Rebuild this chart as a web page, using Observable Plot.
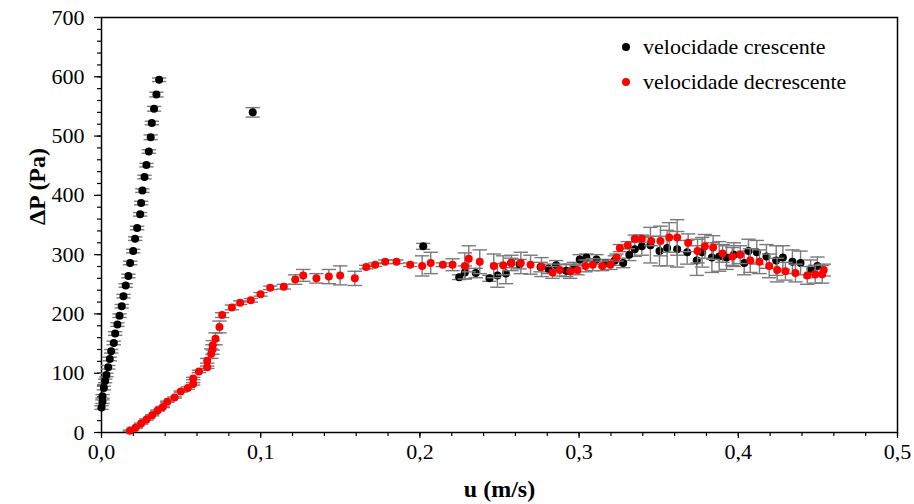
<!DOCTYPE html>
<html>
<head>
<meta charset="utf-8">
<script src="https://cdn.jsdelivr.net/npm/d3@7"></script>
<script src="https://cdn.jsdelivr.net/npm/@observablehq/plot@0.6"></script>
<style>
  html, body { margin: 0; padding: 0; background: #fff; }
  #wrap { position: relative; width: 914px; height: 504px; font-family: "Liberation Serif", "Times New Roman", serif; }
  #wrap svg, #wrap svg text { font-family: "Liberation Serif", "Times New Roman", serif !important; }
  #legend { position: absolute; left: 622px; top: 29px; font-size: 22px; color: #000; line-height: 35px; font-family: "Liberation Serif", "Times New Roman", serif; }
  #legend .item { display: flex; align-items: center; white-space: nowrap; }
  #legend .sw { width: 8px; height: 8px; border-radius: 50%; display: inline-block; margin-right: 13px; }
</style>
</head>
<body>
<div id="wrap"><div id="legend"></div></div>
<script>
// Series names and colours
const seriesNames = ["velocidade crescente", "velocidade decrescente"];
const seriesColors = ["#000000", "#ff0000"];

// velocidade crescente: u (m/s)
const uCresc = [0.0000,0.0006,0.0006,0.0015,0.0023,0.0031,0.0042,0.0052,0.0061,0.0077,0.0086,0.0100,0.0113,0.0127,0.0138,0.0152,0.0169,0.0180,0.0199,0.0211,0.0224,0.0243,0.0249,0.0257,0.0270,0.0282,0.0297,0.0309,0.0316,0.0330,0.0345,0.0362,
  0.0950,
  0.2021,0.2247,0.2282,0.2351,0.2437,0.2487,0.2540,0.2573,0.2626,0.2758,0.2808,0.2856,0.2919,0.2967,0.3004,0.3046,0.3109,0.3166,0.3224,0.3277,0.3315,0.3350,0.3394,0.3448,0.3505,0.3553,0.3616,0.3679,0.3739,0.3773,0.3834,0.3880,0.3926,0.3972,0.4037,0.4064,0.4116,0.4177,0.4238,0.4280,0.4340,0.4391,0.4454,0.4497];
// velocidade crescente: ΔP (Pa)
const pCresc = [42,52,61,75,87,97,110,124,137,151,167,182,197,213,230,248,264,286,306,327,345,368,387,408,431,451,474,498,522,546,570,595,
  540,
  314,262,270,269,260,265,268,286,284,279,276,282,273,277,292,295,292,286,290,286,300,309,314,316,306,311,309,304,290,304,295,297,295,300,286,306,304,297,290,295,288,286,276,281];
// velocidade crescente: error (Pa)
const eCresc = [3,3,3,3,3,3,3,3,3,3,3,3,3,3,3,3,3,3,3,3,3,3,3,3,3,3,3,4,3,4,4,3,
  8,
  5,4,11,8,5,20,17,8,8,8,8,8,10,10,8,6,8,6,8,8,10,12,15,30,25,30,30,20,25,25,25,25,20,20,20,20,20,20,25,20,20,20,15,15];

// velocidade decrescente: u (m/s)
const uDecr = [0.0178,0.0214,0.0249,0.0283,0.0318,0.0352,0.0385,0.0413,0.0459,0.0498,0.0542,0.0576,0.0576,0.0612,0.0664,0.0664,0.0689,0.0697,0.0699,0.0716,0.0741,0.0758,0.0819,0.0871,0.0938,0.0999,0.1060,0.1145,0.1217,0.1267,0.1350,0.1428,0.1499,0.1591,0.1663,0.1719,0.1782,0.1853,0.1939,0.2014,0.2068,0.2144,0.2205,0.2282,0.2307,0.2376,0.2464,0.2523,0.2575,0.2634,0.2695,0.2764,0.2833,0.2879,0.2944,0.2990,0.3040,0.3086,0.3145,0.3197,0.3235,0.3256,0.3306,0.3350,0.3394,0.3453,0.3511,0.3566,0.3616,0.3685,0.3744,0.3790,0.3842,0.3901,0.3962,0.4012,0.4075,0.4133,0.4194,0.4244,0.4296,0.4359,0.4433,0.4483,0.4527,0.4537];
// velocidade decrescente: ΔP (Pa)
const pDecr = [3,8,15,22,29,37,43,52,59,69,75,82,91,103,110,121,133,140,147,158,178,198,211,219,223,233,244,246,258,265,260,263,265,260,279,283,288,288,283,281,286,283,283,281,293,288,281,282,286,286,283,279,270,274,272,274,281,283,281,283,295,311,316,327,327,323,323,329,329,320,306,314,312,302,297,300,290,288,281,274,272,269,265,267,267,274];
// velocidade decrescente: error (Pa)
const eDecr = [1,1,1,1,1,1,1,1,1,1,2,2,2,2,2,4,8,8,8,10,10,4,4,3,3,3,3,4,8,10,8,12,16,12,3,3,3,3,3,17,18,3,10,22,22,20,20,16,13,18,16,16,10,10,12,8,10,10,8,8,6,6,6,6,6,8,25,25,30,15,20,20,20,15,15,15,20,20,20,20,15,15,15,15,15,10];

// Axis ticks
const xMajor = [0, 0.1, 0.2, 0.3, 0.4, 0.5];
const xMinor = d3.range(0, 0.5001, 0.02);
const yMajor = [0, 100, 200, 300, 400, 500, 600, 700];
const yMinor = d3.range(0, 701, 20);

const mk = (us, ps, es, s) => us.map((u, i) => ({u, p: ps[i], e: es[i], s}));
const data = [
  ...mk(uCresc, pCresc, eCresc, seriesNames[0]),
  ...mk(uDecr, pDecr, eDecr, seriesNames[1])
];

const capSymbol = {
  draw(ctx, size) {
    const w = Math.sqrt(size) * 0.9;
    ctx.moveTo(-w, 0);
    ctx.lineTo(w, 0);
  }
};

const errColor = "#7a7a7a";
const fmt = d => d.toFixed(1).replace(".", ",");
const FONT = "'Liberation Serif', 'Times New Roman', serif";

const marks = [];
seriesNames.forEach((name) => {
  const d = data.filter(r => r.s === name);
  marks.push(
    Plot.ruleX(d, {x: "u", y1: r => r.p - r.e, y2: r => r.p + r.e, stroke: errColor, strokeWidth: 1.4}),
    Plot.dot(d, {x: "u", y: r => r.p + r.e, symbol: capSymbol, r: 4.5, stroke: errColor, strokeWidth: 1.4, fill: "none"}),
    Plot.dot(d, {x: "u", y: r => r.p - r.e, symbol: capSymbol, r: 4.5, stroke: errColor, strokeWidth: 1.4, fill: "none"}),
    Plot.dot(d, {x: "u", y: "p", r: 4, fill: "s", stroke: null})
  );
});

const chart = Plot.plot({
  width: 914,
  height: 504,
  marginLeft: 101,
  marginRight: 17,
  marginTop: 17,
  marginBottom: 72,
  style: {fontFamily: FONT, fontSize: "22px", background: "#fff", color: "#000"},
  x: {domain: [0, 0.5]},
  y: {domain: [0, 700]},
  color: {domain: seriesNames, range: seriesColors},
  marks: [
    Plot.axisX({ticks: xMinor, tickSize: 4, tickFormat: () => "", label: null, strokeWidth: 1.2}),
    Plot.axisX({ticks: xMajor, tickSize: 6, tickPadding: 5, tickFormat: fmt, label: null, fontSize: 22, fontFamily: FONT, strokeWidth: 1.2}),
    Plot.axisY({ticks: yMinor, tickSize: 4, tickFormat: () => "", label: null, strokeWidth: 1.2}),
    Plot.axisY({ticks: yMajor, tickSize: 7, tickPadding: 10, tickFormat: d => String(d), label: null, fontSize: 22, fontFamily: FONT, strokeWidth: 1.2}),
    Plot.frame({stroke: "#000", strokeWidth: 1.5}),
    ...marks,
    Plot.text(["u (m/s)"], {frameAnchor: "bottom", dy: 64, fontWeight: "bold", fontSize: 24, fontFamily: FONT, text: d => d}),
    Plot.text(["ΔP (Pa)"], {frameAnchor: "left", dx: -64, rotate: -90, fontWeight: "bold", fontSize: 24, fontFamily: FONT, text: d => d})
  ]
});

const wrap = document.getElementById("wrap");
wrap.insertBefore(chart, wrap.firstChild);

const legend = document.getElementById("legend");
seriesNames.forEach((n, i) => {
  const it = document.createElement("div");
  it.className = "item";
  const sw = document.createElement("span");
  sw.className = "sw";
  sw.style.background = seriesColors[i];
  const tx = document.createElement("span");
  tx.textContent = n;
  it.appendChild(sw);
  it.appendChild(tx);
  legend.appendChild(it);
});
</script>
</body>
</html>
